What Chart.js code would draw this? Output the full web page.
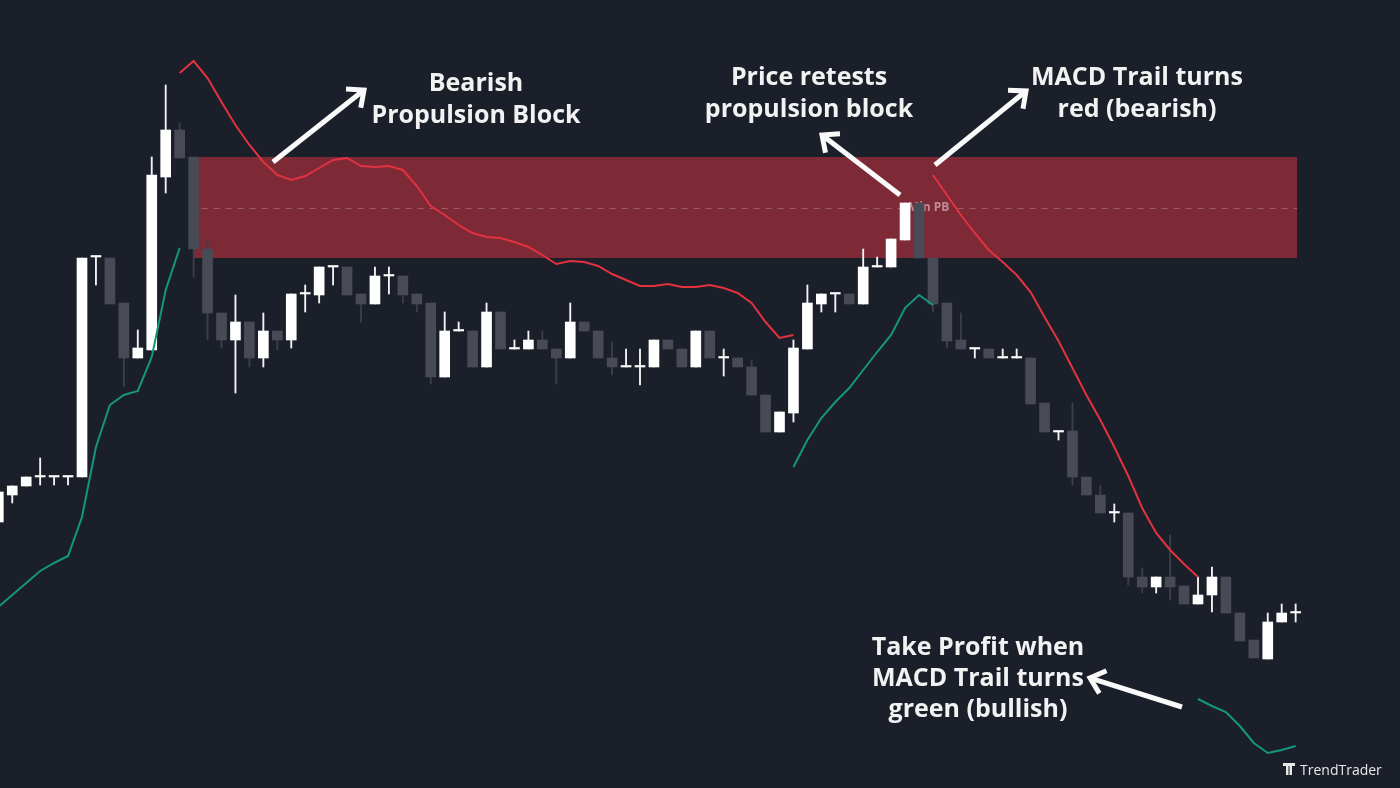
<!DOCTYPE html>
<html>
<head>
<meta charset="utf-8">
<script src="https://cdn.jsdelivr.net/npm/chart.js@4"></script>
<style>
html, body { margin: 0; padding: 0; background: #1b1f2a; }
#wrap { width: 1400px; height: 788px; position: relative; }
</style>
</head>
<body>
<div id="wrap"><canvas id="priceChart"></canvas></div>
<script>
// candle number along the x axis
const candleIndex = [
  0, 1, 2, 3, 4, 5, 6, 7, 8, 9,
  10, 11, 12, 13, 14, 15, 16, 17, 18, 19,
  20, 21, 22, 23, 24, 25, 26, 27, 28, 29,
  30, 31, 32, 33, 34, 35, 36, 37, 38, 39,
  40, 41, 42, 43, 44, 45, 46, 47, 48, 49,
  50, 51, 52, 53, 54, 55, 56, 57, 58, 59,
  60, 61, 62, 63, 64, 65, 66, 67, 68, 69,
  70, 71, 72, 73, 74, 75, 76, 77, 78, 79,
  80, 81, 82, 83, 84, 85, 86, 87, 88, 89,
  90, 91, 92, 93
];

const opens = [
  26.6, 29.3, 30.2, 31.1, 31.1, 31.1, 31.1, 53.1, 53.0, 48.5,
  43.0, 43.8, 61.1, 65.8, 63.1, 53.9, 47.5, 44.8, 46.6, 43.0,
  45.7, 44.8, 49.4, 49.3, 52.1, 52.1, 49.4, 48.4, 51.2, 51.2,
  49.4, 48.5, 41.1, 45.7, 45.7, 42.1, 47.6, 43.9, 43.9, 44.8,
  43.9, 43.0, 46.6, 45.7, 43.0, 42.1, 42.1, 42.1, 44.8, 43.9,
  42.1, 45.7, 43.0, 43.0, 42.1, 39.3, 35.6, 37.5, 43.9, 48.4,
  49.4, 49.4, 48.4, 52.1, 52.1, 54.8, 58.5, 53.0, 48.5, 44.8,
  43.9, 43.9, 43.0, 43.0, 43.0, 38.5, 35.6, 35.7, 31.1, 29.3,
  27.5, 27.5, 21.1, 20.1, 21.1, 20.2, 18.4, 19.3, 21.1, 17.5,
  14.8, 12.9, 16.6, 17.5
];

const highs = [
  29.8, 30.2, 31.1, 33.0, 31.1, 31.1, 53.0, 53.1, 53.0, 48.5,
  45.8, 63.1, 70.3, 66.5, 63.1, 54.9, 47.5, 49.3, 46.6, 47.5,
  45.7, 49.4, 50.3, 52.1, 52.1, 52.1, 49.4, 52.1, 52.1, 51.2,
  49.4, 48.5, 47.6, 46.6, 45.7, 48.5, 47.6, 44.8, 45.7, 45.7,
  43.9, 48.5, 46.6, 45.7, 44.6, 43.9, 43.9, 44.8, 44.8, 43.9,
  45.7, 45.7, 43.9, 43.0, 42.8, 39.3, 37.6, 44.8, 50.3, 49.4,
  49.4, 49.4, 53.9, 53.1, 54.9, 58.5, 58.5, 53.0, 48.5, 47.5,
  43.9, 43.9, 43.9, 43.9, 43.0, 38.5, 35.6, 38.5, 31.1, 30.3,
  28.4, 27.5, 22.0, 21.1, 25.3, 20.2, 21.1, 22.1, 21.1, 17.5,
  14.8, 17.5, 18.4, 18.4
];

const lows = [
  26.4, 28.5, 30.2, 30.3, 30.3, 30.3, 31.1, 50.3, 48.4, 40.1,
  43.0, 43.8, 59.5, 63.0, 51.1, 44.8, 44.0, 39.5, 42.1, 42.1,
  43.8, 44.0, 47.6, 48.5, 50.3, 49.3, 46.6, 48.4, 49.4, 48.5,
  47.6, 40.4, 41.1, 45.7, 42.1, 42.1, 43.9, 43.9, 43.9, 43.9,
  40.4, 43.0, 45.7, 43.0, 41.3, 42.1, 40.3, 42.1, 43.9, 42.1,
  42.1, 43.0, 41.2, 42.1, 39.3, 35.6, 35.6, 36.6, 43.9, 47.6,
  47.6, 48.4, 48.4, 52.1, 52.1, 54.8, 53.0, 47.6, 44.0, 43.9,
  43.0, 43.0, 43.0, 43.0, 38.4, 35.6, 34.8, 30.3, 29.3, 27.5,
  26.6, 20.3, 19.5, 19.5, 18.8, 18.4, 18.4, 17.6, 17.5, 14.7,
  13.0, 12.9, 16.6, 16.6
];

const closes = [
  29.6, 30.2, 31.1, 31.1, 31.1, 31.1, 53.0, 53.1, 48.4, 43.0,
  44.0, 61.3, 65.8, 63.0, 53.9, 47.5, 44.8, 46.6, 43.0, 45.7,
  44.8, 49.4, 49.4, 52.1, 52.1, 49.3, 48.4, 51.2, 51.2, 49.3,
  48.4, 41.1, 45.7, 45.7, 42.1, 47.6, 43.9, 43.9, 44.8, 43.9,
  43.0, 46.6, 45.7, 43.0, 42.1, 42.1, 42.1, 44.8, 43.9, 42.1,
  45.7, 43.0, 43.0, 42.1, 39.3, 35.6, 37.6, 44.0, 48.5, 49.4,
  49.4, 48.4, 52.1, 52.1, 54.9, 58.5, 53.0, 48.4, 44.7, 43.9,
  43.9, 43.0, 43.0, 43.0, 38.4, 35.6, 35.6, 31.1, 29.3, 27.5,
  27.5, 21.1, 20.1, 21.1, 20.1, 18.4, 19.3, 21.1, 17.5, 14.7,
  13.0, 16.6, 17.5, 17.5
];

// MACD trail, bearish (red) and bullish (green) parts
const redTrail = [
  null, null, null, null, null, null, null, null, null, null,
  null, null, null, 71.5, 72.7, 71.0, 68.6, 66.3, 64.3, 62.6,
  61.3, 60.8, 61.2, 62.0, 62.8, 63.0, 62.2, 62.1, 62.2, 61.8,
  60.2, 58.2, 57.3, 56.3, 55.5, 55.1, 55.0, 54.6, 54.1, 53.3,
  52.4, 52.7, 52.6, 52.2, 51.4, 50.8, 50.2, 50.2, 50.4, 50.1,
  50.1, 50.3, 50.0, 49.5, 48.5, 46.6, 45.0, 45.3, null, null,
  null, null, null, null, null, null, null, 61.3, 59.3, 57.3,
  55.5, 53.8, 52.6, 51.3, 49.6, 47.1, 44.7, 42.0, 39.3, 36.8,
  34.1, 31.2, 28.0, 25.5, 23.8, 22.4, 21.1, null, null, null,
  null, null, null, null
];

const greenTrail = [
  18.1, 19.3, 20.5, 21.7, 22.5, 23.2, 27.1, 34.1, 38.3, 39.3,
  39.7, 43.1, 49.8, 54.0, null, null, null, null, null, null,
  null, null, null, null, null, null, null, null, null, null,
  null, null, null, null, null, null, null, null, null, null,
  null, null, null, null, null, null, null, null, null, null,
  null, null, null, null, null, null, null, 32.1, 34.8, 37.0,
  38.6, 40.0, 41.8, 43.6, 45.3, 48.0, 49.3, 48.3, null, null,
  null, null, null, null, null, null, null, null, null, null,
  null, null, null, null, null, null, 8.9, 8.2, 7.6, 6.2,
  4.5, 3.5, 3.8, 4.2
];

// bearish propulsion block: from candle, to candle, top, bottom
const blockFrom = 14;
const blockTo = 93.1;
const blockTop = 63.1;
const blockBottom = 53.0;

const bodies = opens.map((o, i) => [o, closes[i]]);
const wicks = lows.map((l, i) => [l, highs[i]]);
const bodyColors = opens.map((o, i) => closes[i] >= o ? "#ffffff" : "#484b56");
const wickColors = opens.map((o, i) => closes[i] >= o ? "#f4f4f4" : "#3c3f4a");

const bgPlugin = {
  id: "bg",
  beforeDraw(chart) {
    const c = chart.ctx;
    c.save();
    c.fillStyle = "#1b1f2a";
    c.fillRect(0, 0, chart.width, chart.height);
    c.restore();
  }
};

const blockPlugin = {
  id: "block",
  beforeDatasetsDraw(chart) {
    const c = chart.ctx;
    const xs = chart.scales.x;
    const ys = chart.scales.y;
    const x1 = xs.getPixelForValue(blockFrom);
    const x2 = xs.getPixelForValue(blockTo);
    const y1 = ys.getPixelForValue(blockTop);
    const y2 = ys.getPixelForValue(blockBottom);
    const ym = ys.getPixelForValue((blockTop + blockBottom) / 2);
    c.save();
    c.fillStyle = "#7d2936";
    c.fillRect(x1, y1, x2 - x1, y2 - y1);

    c.strokeStyle = "rgba(255,255,255,0.25)";
    c.lineWidth = 1;
    c.setLineDash([6, 6]);
    c.beginPath();
    c.moveTo(x1 + 8, Math.round(ym) + 0.5);
    c.lineTo(x2, Math.round(ym) + 0.5);
    c.stroke();
    c.setLineDash([]);

    // label sits on the mid line, mostly hidden by the retest candles
    c.font = "700 12px 'Open Sans'";
    const lx = xs.getPixelForValue(65.2);
    const w = c.measureText("Min PB").width;
    c.fillStyle = "#7d2936";
    c.fillRect(lx - 4, ym - 8, w + 8, 16);
    c.fillStyle = "rgba(235,205,210,0.6)";
    c.textBaseline = "middle";
    c.fillText("Min PB", lx, ym);
    c.restore();
  }
};

function arrow(c, x1, y1, x2, y2) {
  const a = Math.atan2(y2 - y1, x2 - x1);
  const len = 18;
  const spread = 0.72;
  c.beginPath();
  c.moveTo(x1, y1);
  c.lineTo(x2 - Math.cos(a) * 2, y2 - Math.sin(a) * 2);
  c.stroke();
  c.beginPath();
  c.moveTo(x2 - len * Math.cos(a - spread), y2 - len * Math.sin(a - spread));
  c.lineTo(x2, y2);
  c.lineTo(x2 - len * Math.cos(a + spread), y2 - len * Math.sin(a + spread));
  c.stroke();
}

const notePlugin = {
  id: "notes",
  afterDraw(chart) {
    const c = chart.ctx;
    c.save();
    c.fillStyle = "#f2f2f2";
    c.font = "700 25px 'Open Sans'";
    c.textAlign = "center";
    c.textBaseline = "alphabetic";
    c.fillText("Bearish", 476, 91);
    c.fillText("Propulsion Block", 476, 123);
    c.fillText("Price retests", 809, 85);
    c.fillText("propulsion block", 809, 117);
    c.fillText("MACD Trail turns", 1137, 85);
    c.fillText("red (bearish)", 1137, 117);
    c.fillText("Take Profit when", 978, 655);
    c.fillText("MACD Trail turns", 978, 686);
    c.fillText("green (bullish)", 978, 717);

    c.strokeStyle = "#fafafa";
    c.lineWidth = 5;
    c.lineJoin = "miter";
    c.lineCap = "butt";
    arrow(c, 273, 162, 364, 90);
    arrow(c, 900, 195, 822, 135);
    arrow(c, 935, 165, 1026, 91);
    arrow(c, 1182, 707, 1090, 678);

    // watermark
    c.fillStyle = "#e8e8e8";
    c.fillRect(1283, 763, 12, 3);
    c.fillRect(1286, 763, 2.5, 12);
    c.fillRect(1289.5, 763, 2.5, 12);
    c.font = "500 14px 'Open Sans'";
    c.textAlign = "left";
    c.fillText("TrendTrader", 1300, 775);
    c.restore();
  }
};

const priceCtx = document.getElementById("priceChart");

new Chart(priceCtx, {

    type: "bar",

    data: {

        labels: candleIndex,

        datasets: [

            {
                type: "line",
                data: redTrail,
                borderColor: "#e3323f",
                borderWidth: 2,
                pointRadius: 0,
                spanGaps: false,
                order: 0
            },

            {
                type: "line",
                data: greenTrail,
                borderColor: "#14977b",
                borderWidth: 2,
                pointRadius: 0,
                spanGaps: false,
                order: 1
            },

            {
                data: bodies,
                backgroundColor: bodyColors,
                barThickness: 10,
                minBarLength: 1.5,
                grouped: false,
                order: 2
            },

            {
                data: wicks,
                backgroundColor: wickColors,
                barThickness: 1.2,
                grouped: false,
                order: 3
            }

        ]

    },

    options: {
        responsive: true,
        maintainAspectRatio: false,
        animation: false,
        layout: { padding: 0 },
        plugins: {
            legend: { display: false },
            tooltip: { enabled: false }
        },
        scales: {
            x: { type: "linear", min: 0.122, max: 100.48, offset: false, display: false },
            y: { min: 0, max: 78.8, display: false }
        }
    },

    plugins: [bgPlugin, blockPlugin, notePlugin]

});
</script>
</body>
</html>
